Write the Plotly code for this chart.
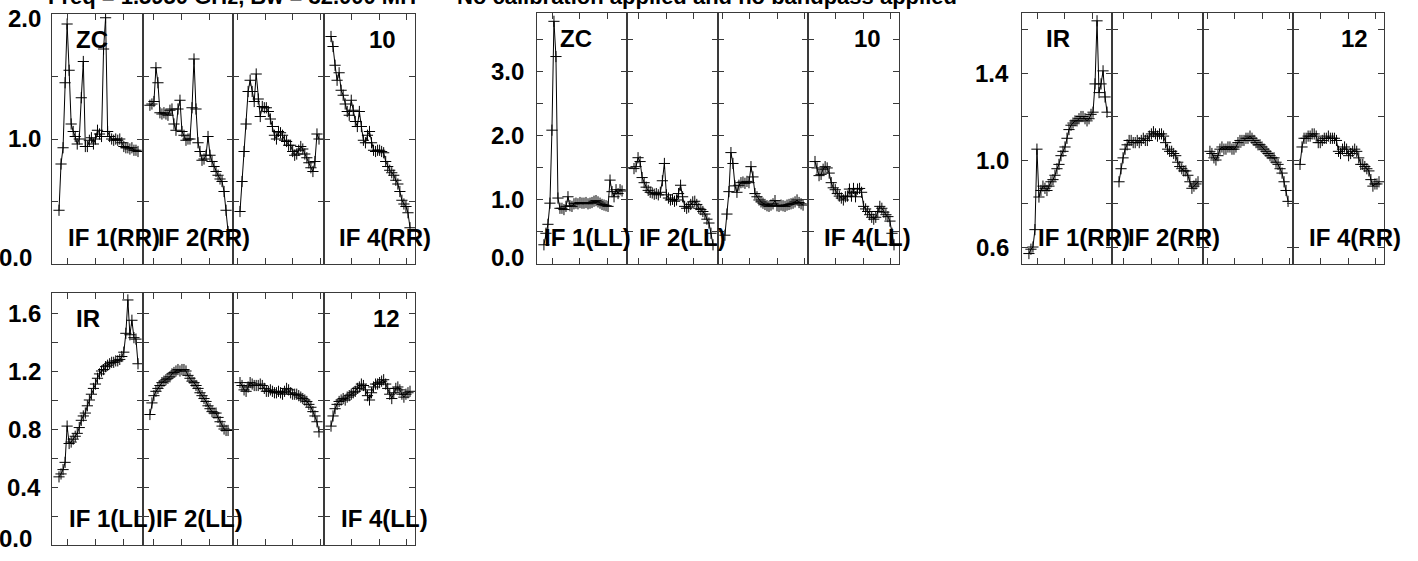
import plotly.graph_objects as go

FIG_W, FIG_H = 1418, 561

# channel number inside each IF
channels = list(range(1, 41))

# ZC, antenna 10, RR
zc_rr_if1 = [0.43, 0.80, 0.93, 1.45, 1.92, 1.55, 1.12, 1.06, 1.02, 0.96,
             1.00, 1.33, 1.62, 0.94, 0.94, 0.99, 1.01, 0.96, 1.00, 1.07,
             1.04, 1.02, 1.72, 1.97, 1.06, 1.02, 1.00, 0.99, 1.00, 0.99,
             1.00, 0.97, 0.94, 0.93, 0.93, 0.92, 0.93, 0.91, 0.91, 0.90]
zc_rr_if2 = [1.27, 1.28, 1.30, 1.57, 1.45, 1.21, 1.20, 1.21, 1.20, 1.19,
             1.23, 1.24, 1.12, 1.07, 1.24, 1.31, 1.06, 1.03, 0.99, 1.00,
             1.00, 1.25, 1.64, 1.24, 0.97, 0.90, 0.83, 0.84, 0.87, 1.02,
             0.87, 0.82, 0.78, 0.74, 0.71, 0.68, 0.66, 0.58, 0.43, 0.26]
zc_rr_if3 = [0.42, 0.66, 0.90, 1.12, 1.38, 1.47, 1.38, 1.30, 1.52, 1.32,
             1.18, 1.26, 1.25, 1.25, 1.22, 1.16, 1.10, 1.03, 1.00, 1.06,
             1.05, 1.03, 0.99, 0.98, 0.95, 0.95, 0.90, 0.87, 0.88, 0.91,
             0.94, 0.92, 0.88, 0.85, 0.81, 0.77, 0.74, 0.82, 1.04, 1.00]
zc_rr_if4 = [1.82, 1.74, 1.59, 1.47, 1.53, 1.39, 1.35, 1.28, 1.22, 1.19,
             1.31, 1.23, 1.14, 1.10, 1.22, 1.10, 0.99, 0.97, 1.03, 1.06,
             0.97, 0.91, 0.90, 0.91, 0.91, 0.90, 0.89, 0.82, 0.78, 0.75,
             0.73, 0.71, 0.67, 0.64, 0.58, 0.51, 0.48, 0.46, 0.41, 0.29]

# ZC, antenna 10, LL
zc_ll_if1 = [0.30, 0.48, 0.62, 0.95, 2.09, 3.79, 3.24, 1.03, 0.87, 0.87,
             0.85, 0.90, 1.05, 0.91, 0.90, 0.94, 0.95, 0.94, 0.96, 0.95,
             0.95, 0.96, 0.94, 0.95, 0.96, 0.98, 0.99, 0.97, 0.95, 0.93,
             0.92, 0.91, 0.90, 1.31, 1.13, 1.05, 1.16, 1.10, 1.16, 1.14]
zc_ll_if2 = [1.49, 1.52, 1.66, 1.60, 1.35, 1.27, 1.20, 1.15, 1.12, 1.11,
             1.09, 1.10, 1.08, 1.12, 1.30, 1.57, 1.08, 1.03, 1.00, 1.01,
             0.98, 1.00, 1.10, 1.23, 1.05, 0.90, 0.87, 0.89, 0.93, 0.97,
             0.98, 0.93, 0.87, 0.85, 0.82, 0.78, 0.70, 0.64, 0.48, 0.30]
zc_ll_if3 = [0.45, 0.78, 1.13, 1.74, 1.57, 1.22, 1.12, 1.23, 1.27, 1.28,
             1.26, 1.29, 1.27, 1.52, 1.36, 1.10, 1.05, 1.00, 0.97, 0.95,
             0.93, 0.91, 0.90, 0.92, 0.94, 0.99, 0.91, 0.90, 0.92, 0.91,
             0.90, 0.92, 0.93, 0.94, 0.95, 0.97, 1.00, 0.96, 0.94, 0.92]
zc_ll_if4 = [1.60, 1.50, 1.38, 1.40, 1.48, 1.52, 1.50, 1.42, 1.27, 1.19,
             1.16, 1.10, 1.06, 1.03, 1.00, 1.05, 1.06, 1.17, 1.06, 1.18,
             1.05, 1.17, 1.18, 1.12, 0.90, 0.86, 0.82, 0.77, 0.73, 0.70,
             0.73, 0.82, 0.90, 0.87, 0.81, 0.77, 0.74, 0.67, 0.48, 0.30]

# IR, antenna 12, RR
ir_rr_if1 = [0.57, 0.59, 0.60, 0.68, 1.05, 0.83, 0.86, 0.88, 0.87, 0.86,
             0.88, 0.90, 0.91, 0.93, 0.96, 0.98, 1.02, 1.04, 1.06, 1.10,
             1.14, 1.16, 1.17, 1.18, 1.18, 1.19, 1.20, 1.20, 1.19, 1.18,
             1.19, 1.21, 1.22, 1.35, 1.64, 1.31, 1.35, 1.41, 1.29, 1.22]
ir_rr_if2 = [0.90, 0.96, 1.01, 1.05, 1.07, 1.09, 1.09, 1.08, 1.08, 1.09,
             1.08, 1.09, 1.10, 1.09, 1.09, 1.11, 1.12, 1.13, 1.12, 1.11,
             1.12, 1.12, 1.11, 1.08, 1.05, 1.04, 1.04, 1.03, 1.02, 0.99,
             0.97, 0.96, 0.95, 0.95, 0.93, 0.90, 0.87, 0.88, 0.89, 0.90]
ir_rr_if3 = [1.04, 1.03, 1.01, 1.00, 1.02, 1.05, 1.06, 1.05, 1.05, 1.06,
             1.06, 1.05, 1.05, 1.06, 1.08, 1.09, 1.09, 1.09, 1.10, 1.10,
             1.11, 1.10, 1.09, 1.08, 1.07, 1.07, 1.06, 1.05, 1.04, 1.03,
             1.02, 1.01, 1.01, 0.99, 0.98, 0.96, 0.94, 0.90, 0.86, 0.81]
ir_rr_if4 = [0.98, 1.06, 1.10, 1.10, 1.11, 1.11, 1.12, 1.12, 1.11, 1.08,
             1.08, 1.09, 1.10, 1.10, 1.11, 1.10, 1.10, 1.10, 1.09, 1.04,
             1.03, 1.05, 1.06, 1.05, 1.02, 1.03, 1.04, 1.05, 1.04, 1.01,
             0.98, 0.98, 0.97, 0.96, 0.95, 0.91, 0.88, 0.89, 0.89, 0.90]

# IR, antenna 12, LL
ir_ll_if1 = [0.47, 0.49, 0.52, 0.57, 0.82, 0.70, 0.71, 0.73, 0.75, 0.77,
             0.81, 0.86, 0.89, 0.91, 0.96, 1.00, 1.04, 1.08, 1.11, 1.15,
             1.18, 1.20, 1.21, 1.23, 1.24, 1.25, 1.26, 1.26, 1.27, 1.27,
             1.28, 1.30, 1.33, 1.46, 1.69, 1.45, 1.55, 1.43, 1.42, 1.25]
ir_ll_if2 = [0.90, 0.98, 1.03, 1.06, 1.08, 1.10, 1.12, 1.13, 1.14, 1.15,
             1.16, 1.18, 1.19, 1.20, 1.21, 1.20, 1.21, 1.21, 1.20, 1.17,
             1.15, 1.13, 1.12, 1.10, 1.08, 1.05, 1.03, 1.01, 0.99, 0.96,
             0.94, 0.92, 0.91, 0.91, 0.88, 0.85, 0.82, 0.80, 0.79, 0.79]
ir_ll_if3 = [1.12, 1.10, 1.07, 1.06, 1.09, 1.12, 1.11, 1.10, 1.10, 1.10,
             1.11, 1.10, 1.08, 1.06, 1.06, 1.07, 1.06, 1.05, 1.05, 1.06,
             1.05, 1.04, 1.06, 1.08, 1.07, 1.05, 1.04, 1.04, 1.04, 1.03,
             1.02, 1.01, 1.00, 0.99, 0.97, 0.95, 0.92, 0.89, 0.85, 0.78]
ir_ll_if4 = [0.82, 0.89, 0.94, 0.97, 0.99, 1.00, 1.01, 1.00, 1.02, 1.03,
             1.04, 1.05, 1.06, 1.08, 1.09, 1.11, 1.10, 1.07, 1.03, 1.00,
             1.05, 1.09, 1.11, 1.11, 1.12, 1.13, 1.14, 1.11, 1.08, 1.04,
             1.01, 1.05, 1.08, 1.09, 1.07, 1.04, 1.02, 1.04, 1.05, 1.06]

sources = ["ZC", "ZC", "IR", "IR"]
antennas = ["10", "10", "12", "12"]
stokes = ["RR", "LL", "RR", "LL"]
if_labels = ["IF 1", "IF 2", None, "IF 4"]   # IF 3 has no label in the plot

# y tick marks and labelled ticks for each panel
y_ticks = [
    [0.0, 0.5, 1.0, 1.5, 2.0],
    [0.0, 0.5, 1.0, 1.5, 2.0, 2.5, 3.0, 3.5],
    [0.6, 0.8, 1.0, 1.2, 1.4, 1.6],
    [0.0, 0.2, 0.4, 0.6, 0.8, 1.0, 1.2, 1.4, 1.6],
]
y_labels = [
    [0.0, 1.0, 2.0],
    [0.0, 1.0, 2.0, 3.0],
    [0.6, 1.0, 1.4],
    [0.0, 0.4, 0.8, 1.2, 1.6],
]

title_left = "Freq = 1.5950 GHz, Bw = 32.000 MH"
title_right = "No calibration applied and no bandpass applied"

panel_series = [
    [zc_rr_if1, zc_rr_if2, zc_rr_if3, zc_rr_if4],
    [zc_ll_if1, zc_ll_if2, zc_ll_if3, zc_ll_if4],
    [ir_rr_if1, ir_rr_if2, ir_rr_if3, ir_rr_if4],
    [ir_ll_if1, ir_ll_if2, ir_ll_if3, ir_ll_if4],
]

# ---- layout geometry (pixels) ----
# sub-panel edges, top, bottom
panel_boxes = [
    ([52, 143, 233, 324, 415], 14, 264),
    ([537, 627, 718, 808, 899], 13, 264),
    ([1022, 1112, 1203, 1293, 1384], 13, 264),
    ([52, 143, 233, 324, 415], 293, 545),
]
y_ranges = [[0.0, 2.0], [0.0, 3.92], [0.522, 1.676], [0.0, 1.738]]
x_range = [-2.46, 42.47]
x_tickpos = [[5.1, 18.9, 32.6], [3.0, 16.9, 30.6],
             [-0.33, 13.4, 27.1, 40.6], [11.1, 24.9, 38.5]]
# left edge of text labels
src_left = [75, 559, 1045, 75]
ant_left = [368, 853, 1340, 372]
if_left = [[67, 157, None, 338], [543, 638, None, 823],
           [1037, 1127, None, 1308], [68, 155, None, 340]]
ylab_gap = [10, 12, 12, 10]
zero_extra = [9, 0, 0, 9]

FONT = dict(family="Liberation Sans, Arial, sans-serif", size=24, color="black", weight="bold")
TITLE_FONT = dict(FONT, size=22)
LINE_C = "#3a3a3a"


def px_x(px):
    return px / FIG_W


def px_y(py):
    return 1 - py / FIG_H


fig = go.Figure()
axis_style = dict(showline=True, linecolor=LINE_C, linewidth=1, mirror="ticks",
                  ticks="inside", ticklen=6, tickcolor=LINE_C, tickwidth=1,
                  showgrid=False, zeroline=False, showticklabels=False,
                  fixedrange=True)
annotations = []

n = 0
for p in range(4):
    edges, top, bottom = panel_boxes[p]
    for k in range(4):
        n += 1
        sfx = "" if n == 1 else str(n)
        fig.add_trace(go.Scatter(
            x=channels, y=panel_series[p][k],
            xaxis="x" + sfx, yaxis="y" + sfx,
            mode="lines+markers",
            line=dict(color="black", width=1),
            marker=dict(symbol="cross-thin", size=8,
                        line=dict(color="black", width=1)),
            showlegend=False, hoverinfo="skip",
        ))
        fig.update_layout(**{
            "xaxis" + sfx: dict(domain=[px_x(edges[k]), px_x(edges[k + 1])],
                                anchor="y" + sfx, range=x_range,
                                tickvals=x_tickpos[k], **axis_style),
            "yaxis" + sfx: dict(domain=[px_y(bottom), px_y(top)],
                                anchor="x" + sfx, range=y_ranges[p],
                                tickvals=y_ticks[p], **axis_style),
        })
        if if_labels[k]:
            annotations.append(dict(
                text=f"{if_labels[k]}({stokes[p]})", xref="paper", yref="paper",
                x=px_x(if_left[p][k]), y=px_y(bottom - 27),
                xanchor="left", yanchor="middle", showarrow=False,
                borderpad=0, font=FONT))
        if k == 0:
            ya = "y" + sfx
            for v in y_labels[p]:
                shift = 0
                dx = ylab_gap[p]
                if v == y_ranges[p][0]:
                    shift = 7
                    dx += zero_extra[p]
                elif abs(v - y_ranges[p][1]) < 1e-9:
                    shift = -5
                annotations.append(dict(
                    text=f"{v:.1f}", xref="paper", yref=ya,
                    x=px_x(edges[0] - dx), y=v, yshift=shift,
                    xanchor="right", yanchor="middle", showarrow=False,
                    borderpad=0, font=FONT))

    annotations.append(dict(text=sources[p], xref="paper", yref="paper",
                            x=px_x(src_left[p]), y=px_y(top + 25),
                            xanchor="left", yanchor="middle", showarrow=False,
                            borderpad=0, font=FONT))
    annotations.append(dict(text=antennas[p], xref="paper", yref="paper",
                            x=px_x(ant_left[p]), y=px_y(top + 25),
                            xanchor="left", yanchor="middle", showarrow=False,
                            borderpad=0, font=FONT))

# title sits partly above the page edge, as in the original
annotations.append(dict(text=title_left, xref="paper", yref="paper",
                        x=px_x(47), y=px_y(-3), xanchor="left", yanchor="middle",
                        showarrow=False, borderpad=0, font=TITLE_FONT))
annotations.append(dict(text=title_right, xref="paper", yref="paper",
                        x=px_x(958), y=px_y(-3), xanchor="right", yanchor="middle",
                        showarrow=False, borderpad=0, font=TITLE_FONT))

fig.update_layout(
    width=FIG_W, height=FIG_H,
    margin=dict(l=0, r=0, t=0, b=0, pad=0),
    paper_bgcolor="white", plot_bgcolor="white",
    annotations=annotations,
    showlegend=False,
)

# page body has a default 8px margin; drop it so the figure sits at the corner
fig.write_html("out.html", config={"displayModeBar": False},
               post_script="document.body.style.margin='0px';")
